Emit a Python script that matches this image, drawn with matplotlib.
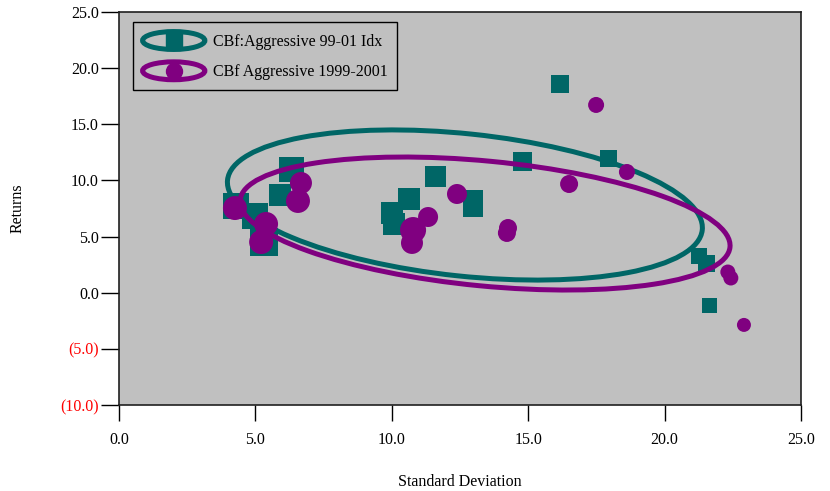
import matplotlib
matplotlib.use("Agg")
import matplotlib.pyplot as plt
from matplotlib.patches import Ellipse
from matplotlib.lines import Line2D
from matplotlib.legend_handler import HandlerBase
from matplotlib.transforms import Affine2D

plt.rcParams['font.family'] = ['Liberation Serif', 'DejaVu Serif']

# CBf:Aggressive 99-01 Idx (squares)
idx_sd = [4.29, 4.99, 5.32, 5.90, 6.34, 10.01, 10.08, 10.63, 11.60, 12.98, 12.98,
          14.79, 16.18, 17.94, 21.28, 21.55, 21.66]
idx_ret = [7.72, 6.83, 4.51, 8.70, 10.93, 7.10, 6.12, 8.34, 10.35, 8.25, 7.63,
           11.64, 18.58, 11.99, 3.27, 2.64, -1.18]
idx_size = [26, 26, 28, 22, 25, 22, 22, 22, 21, 20, 20, 19, 18, 17, 16, 17, 15]

# CBf Aggressive 1999-2001 (circles)
fund_sd = [4.25, 5.39, 5.21, 6.67, 6.56, 12.39, 11.33, 10.78, 10.74, 17.49, 16.50,
           18.62, 22.32, 22.43, 22.91, 14.22, 14.26]
fund_ret = [7.54, 6.12, 4.51, 9.77, 8.17, 8.79, 6.74, 5.58, 4.43, 16.72, 9.68,
            10.75, 1.84, 1.31, -2.87, 5.32, 5.76]
fund_size = [24, 24, 24, 22, 24, 20, 20, 26, 22, 16, 18, 16, 15, 15, 14, 18, 18]

# ellipses: centre, semi axes (in x units), angle
idx_ell = (12.68, 7.81, 8.75, 2.61, -6.0)
fund_ell = (13.42, 6.16, 9.02, 2.29, -5.5)

labels = ['CBf:Aggressive 99-01 Idx', 'CBf Aggressive 1999-2001']
xticks = [0, 5, 10, 15, 20, 25]
yticks = [-10, -5, 0, 5, 10, 15, 20, 25]

TEAL = '#006666'
PURPLE = '#800080'
BG = '#c0c0c0'
FS = 11.5

fig = plt.figure(figsize=(8.3, 4.91), dpi=100)
ax = fig.add_axes([0.1434, 0.1752, 0.8216, 0.8004])
ax.set_facecolor(BG)
ax.set_xlim(0, 25)
ax.set_ylim(-10, 25)

# px -> points^2 for scatter
def area(px):
    return (px * 72 / fig.dpi) ** 2

ax_w = fig.get_figwidth() * fig.dpi * 0.8216
ax_h = fig.get_figheight() * fig.dpi * 0.8004
ratio = (ax_w / 25) / (ax_h / 35)

def draw_ellipse(p, color, z):
    cx, cy, a, b, ang = p
    tr = Affine2D().scale(1, ratio).translate(cx, cy) + ax.transData
    ax.add_patch(Ellipse((0, 0), 2 * a, 2 * b, angle=ang, fill=False, ec=color,
                         lw=3.6, transform=tr, zorder=z))

ax.scatter(idx_sd, idx_ret, s=[area(v) for v in idx_size], marker='s', color=TEAL,
           linewidths=0, zorder=2)
draw_ellipse(idx_ell, TEAL, 3)
draw_ellipse(fund_ell, PURPLE, 4)
ax.scatter(fund_sd, fund_ret, s=[area(v) for v in fund_size], marker='o', color=PURPLE,
           linewidths=0, zorder=5)

ax.set_xticks(xticks, labels=['%.1f' % v for v in xticks])
ax.set_yticks(yticks, labels=['(%.1f)' % -v if v < 0 else '%.1f' % v for v in yticks])
for t, v in zip(ax.get_yticklabels(), yticks):
    if v < 0:
        t.set_color('red')
ax.tick_params(axis='x', direction='out', length=11.5, width=1, pad=8, labelsize=FS)
ax.tick_params(axis='y', direction='out', length=13, width=1, pad=1.5, labelsize=FS)
for s in ax.spines.values():
    s.set_color('#202020')
    s.set_linewidth(1.2)

fig.text(18 / 830, 1 - 208 / 491, 'Returns', rotation=90, ha='center', va='center', fontsize=FS)
fig.text(460 / 830, 1 - 482 / 491, 'Standard Deviation', ha='center', va='center', fontsize=FS)


class EllipseHandler(HandlerBase):
    def __init__(self, color, marker, ms):
        super().__init__()
        self.color = color
        self.marker = marker
        self.ms = ms

    def create_artists(self, legend, orig_handle, xdescent, ydescent, width, height,
                       fontsize, trans):
        cx = width / 2 - xdescent
        cy = height / 2 - ydescent
        e = Ellipse((cx, cy), width, height, fill=False, ec=self.color, lw=3.6,
                    transform=trans)
        m = Line2D([cx], [cy], marker=self.marker, ms=self.ms, color=self.color,
                   ls='none', transform=trans)
        return [e, m]


h1 = Line2D([], [])
h2 = Line2D([], [])
leg = ax.legend([h1, h2], labels, loc='upper left', bbox_to_anchor=(0.0205, 0.9746),
                borderaxespad=0, fontsize=FS, handlelength=3.9, handleheight=1.35,
                labelspacing=0.75, borderpad=0.6, handletextpad=0.5, fancybox=False,
                framealpha=1, facecolor=BG, edgecolor='black',
                handler_map={h1: EllipseHandler(TEAL, 's', 11),
                             h2: EllipseHandler(PURPLE, 'o', 11.5)})
leg.get_frame().set_linewidth(1)
leg.set_zorder(10)

fig.savefig('out.png', dpi=100)
